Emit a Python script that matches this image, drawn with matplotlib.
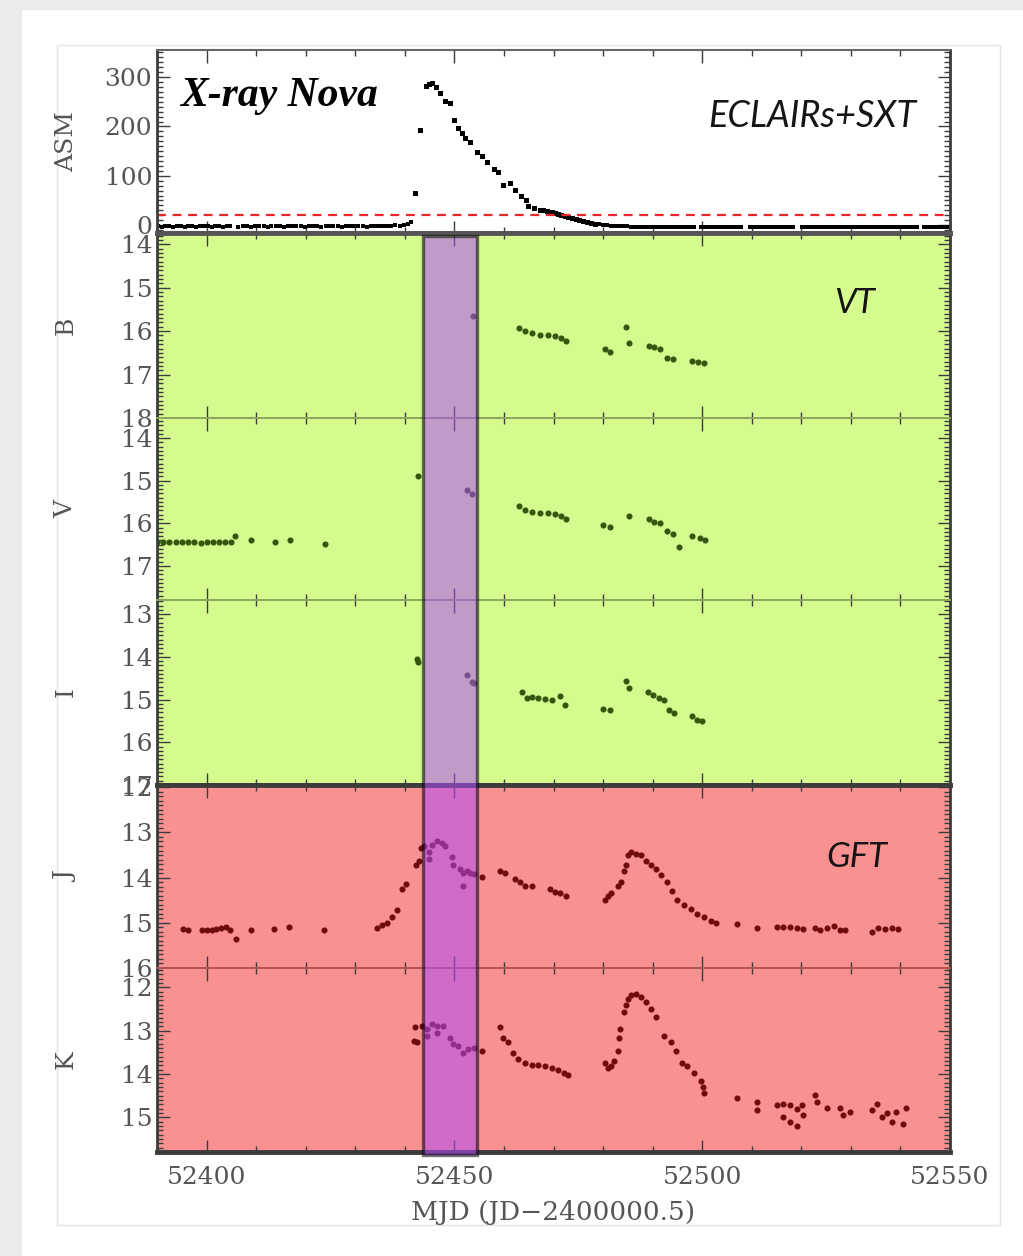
import matplotlib
matplotlib.use("Agg")
import matplotlib.pyplot as plt
import matplotlib.transforms as mtransforms
from matplotlib.patches import Rectangle
from matplotlib.ticker import MultipleLocator

# ---- data ----
asm_pre_mjd = [52390.2, 52391.0, 52391.7, 52392.4, 52393.2, 52394.0, 52394.8, 52395.6, 52396.3, 52397.1,
               52397.9, 52398.6, 52399.4, 52400.2, 52401.0, 52401.8, 52402.5, 52403.3, 52404.1, 52404.8,
               52406.4, 52407.3, 52408.1, 52409.0, 52409.8, 52410.6, 52411.5, 52412.3, 52413.1, 52414.0,
               52414.8, 52415.6, 52416.5, 52417.3, 52418.1, 52419.0, 52419.8, 52420.6, 52421.5, 52422.3,
               52423.1, 52424.0, 52424.8, 52425.6, 52426.5, 52427.3, 52428.1, 52429.0, 52429.8, 52430.6,
               52431.5, 52432.3, 52433.1, 52434.0, 52434.8, 52435.6, 52436.5, 52437.3, 52438.1, 52439.0,
               52439.8, 52440.6, 52441.2]
asm_pre_cts = [-2, -3, -2, -2, -3, -1, -2, -3, -2, -2,
               -3, -2, -1, -2, -3, -2, -2, -3, -2, -1,
               -3, -2, -2, -3, -1, -2, -2, -3, -2, -1,
               -2, -3, -2, -1, -2, -2, -3, -1, -2, -2,
               -3, -2, -1, -2, -2, -3, -1, -2, -2, -1,
               -2, -3, -1, -2, -1, -2, -1, -1, 0, -1,
               0, 2, 6]

asm_mjd = [52442.0, 52443.0, 52444.2, 52444.8, 52445.5, 52446.2, 52447.2, 52448.2, 52449.2, 52450.0,
           52450.8, 52451.5, 52452.2, 52453.2, 52454.5, 52455.5, 52456.5, 52457.9, 52458.9, 52459.9,
           52461.2, 52462.2, 52463.5, 52464.5, 52464.9, 52466.0, 52467.2, 52467.9, 52468.7, 52469.6,
           52470.3, 52470.9, 52471.6, 52472.3, 52473.0, 52473.7, 52474.5, 52475.2, 52476.0, 52476.8,
           52477.6, 52478.4]
asm_cts = [65, 193, 282, 286, 289, 279, 267, 251, 247, 213,
           197, 186, 176, 169, 149, 140, 128, 113, 108, 82,
           86, 71, 58, 51, 38, 34, 31, 30, 28, 26,
           24, 22, 20, 18, 16, 14, 12, 10, 8, 6,
           4, 3]

asm_tail_mjd = [52479.2, 52480.0, 52480.8, 52481.6, 52482.4, 52483.2, 52484.0, 52484.8, 52485.6, 52486.4,
                52487.2, 52488.0, 52488.8, 52489.6, 52490.4, 52491.2, 52492.0, 52492.8, 52493.6, 52494.4,
                52495.2, 52496.0, 52496.8, 52497.6, 52498.4, 52499.8, 52500.6, 52501.4, 52502.2, 52503.0,
                52503.8, 52504.6, 52505.4, 52506.2, 52507.0, 52507.8, 52509.6, 52510.4, 52511.2, 52512.0,
                52512.8, 52513.6, 52514.4, 52515.2, 52516.0, 52516.8, 52517.6, 52518.4, 52520.2, 52521.0,
                52521.8, 52522.6, 52523.4, 52524.2, 52525.0, 52525.8, 52526.6, 52527.4, 52528.2, 52529.0,
                52529.8, 52530.6, 52531.4, 52532.2, 52533.0, 52533.8, 52534.6, 52535.4, 52536.2, 52537.0,
                52537.8, 52538.6, 52539.4, 52540.2, 52541.0, 52541.8, 52542.6, 52543.4, 52544.8, 52545.6,
                52546.4, 52547.2, 52548.0, 52548.8, 52549.6]
asm_tail_cts = [2, 1, 0, -1, -1, -2, -2, -2, -3, -3,
                -3, -3, -3, -3, -3, -3, -3, -3, -3, -3,
                -3, -3, -3, -3, -3, -3, -3, -3, -4, -3,
                -3, -3, -4, -3, -3, -3, -3, -4, -3, -3,
                -3, -4, -3, -3, -3, -4, -3, -3, -3, -3,
                -4, -3, -3, -3, -4, -3, -3, -3, -3, -4,
                -3, -3, -3, -4, -3, -3, -3, -3, -4, -3,
                -3, -3, -4, -3, -3, -3, -3, -4, -3, -3,
                -3, -4, -3, -3, -3]

b_mjd = [52453.7, 52463.1, 52464.2, 52465.7, 52467.3, 52468.8, 52470.3, 52471.5, 52472.5, 52480.3,
         52481.5, 52484.6, 52485.3, 52489.2, 52490.3, 52491.5, 52493.0, 52494.2, 52498.0, 52499.2,
         52500.3]
b_mag = [15.65, 15.93, 16.00, 16.05, 16.08, 16.10, 16.12, 16.16, 16.22, 16.41,
         16.48, 15.90, 16.27, 16.35, 16.37, 16.41, 16.61, 16.65, 16.69, 16.72,
         16.74]

v_mjd = [52390.0, 52391.2, 52392.5, 52393.8, 52395.0, 52396.3, 52397.5, 52398.8, 52400.0, 52401.3,
         52402.5, 52403.8, 52405.0, 52405.8, 52408.9, 52413.9, 52416.9, 52423.8, 52442.7, 52452.6,
         52453.6, 52463.1, 52464.2, 52465.7, 52467.3, 52468.8, 52470.3, 52471.5, 52472.5, 52480.0,
         52481.5, 52485.3, 52489.2, 52490.3, 52491.5, 52493.0, 52494.2, 52495.3, 52498.0, 52499.5,
         52500.6]
v_mag = [16.45, 16.44, 16.45, 16.43, 16.44, 16.45, 16.44, 16.46, 16.45, 16.44,
         16.45, 16.44, 16.43, 16.31, 16.40, 16.44, 16.40, 16.48, 14.90, 15.22,
         15.32, 15.59, 15.69, 15.73, 15.75, 15.76, 15.78, 15.84, 15.90, 16.04,
         16.09, 15.83, 15.90, 15.96, 16.00, 16.19, 16.25, 16.55, 16.30, 16.35,
         16.39]

i_mjd = [52442.5, 52442.6, 52452.5, 52453.5, 52453.9, 52463.6, 52464.6, 52465.6, 52466.9, 52468.2,
         52469.6, 52471.3, 52472.3, 52480.0, 52481.3, 52484.6, 52485.3, 52489.0, 52490.0, 52491.3,
         52492.3, 52493.4, 52494.4, 52498.0, 52499.0, 52500.0]
i_mag = [14.04, 14.12, 14.43, 14.59, 14.62, 14.82, 14.97, 14.94, 14.97, 14.99,
         15.00, 14.92, 15.13, 15.22, 15.25, 14.56, 14.74, 14.82, 14.90, 14.97,
         15.01, 15.25, 15.31, 15.39, 15.47, 15.50]

j_mjd = [52395.3, 52396.3, 52399.0, 52400.0, 52401.0, 52402.0, 52403.0, 52404.0, 52404.7, 52405.9,
         52409.0, 52413.7, 52416.7, 52423.7,
         52434.4, 52435.4, 52436.5, 52437.5, 52438.5, 52439.5, 52440.2, 52442.2, 52442.8, 52443.2,
         52443.8, 52444.8, 52444.8, 52445.5, 52446.5, 52447.5, 52448.2, 52449.5, 52449.8, 52451.2,
         52451.8, 52451.8, 52452.5, 52453.2, 52453.9, 52455.5,
         52459.2, 52460.2, 52462.2, 52463.2, 52464.2, 52465.6, 52469.3, 52470.3, 52471.3, 52472.6,
         52480.3, 52481.0, 52481.6, 52483.0, 52483.6, 52484.3, 52484.6, 52485.0,
         52485.6, 52486.6, 52487.7, 52488.7, 52489.7, 52490.7, 52491.7, 52493.0, 52494.0, 52495.0,
         52496.4, 52497.7, 52499.0, 52500.4, 52501.7, 52502.7,
         52507.1, 52511.1, 52515.1, 52516.4, 52517.7, 52519.1, 52520.4, 52522.8, 52523.8, 52525.1,
         52526.5, 52527.8, 52528.8, 52534.2, 52535.5, 52536.8, 52538.2, 52539.5]
j_mag = [15.14, 15.16, 15.17, 15.16, 15.15, 15.14, 15.12, 15.10, 15.15, 15.35,
         15.16, 15.14, 15.10, 15.16,
         15.12, 15.04, 15.00, 14.88, 14.71, 14.25, 14.14, 13.71, 13.64, 13.35,
         13.30, 13.43, 13.58, 13.27, 13.20, 13.24, 13.31, 13.55, 13.71, 13.82,
         13.90, 14.18, 13.86, 13.90, 13.92, 13.98,
         13.86, 13.90, 14.02, 14.10, 14.18, 14.18, 14.25, 14.32, 14.35, 14.40,
         14.49, 14.41, 14.33, 14.18, 14.10, 13.86, 13.71, 13.51,
         13.43, 13.47, 13.51, 13.63, 13.71, 13.82, 13.94, 14.10, 14.29, 14.49,
         14.61, 14.69, 14.80, 14.88, 14.96, 15.00,
         15.02, 15.12, 15.10, 15.09, 15.10, 15.12, 15.13, 15.12, 15.16, 15.12,
         15.08, 15.16, 15.16, 15.20, 15.12, 15.14, 15.12, 15.14]

k_mjd = [52441.8, 52442.1, 52442.5, 52443.5, 52444.5, 52444.5, 52445.5, 52446.5, 52446.5, 52447.8,
         52449.2, 52449.8, 52450.8, 52451.8, 52452.8, 52453.9, 52455.5,
         52459.2, 52459.9, 52460.9, 52461.9, 52462.9, 52464.2, 52465.6, 52466.9, 52468.2, 52469.6,
         52470.9, 52472.2, 52472.9,
         52480.3, 52481.0, 52481.6, 52482.3, 52483.0, 52483.3, 52483.5, 52484.3, 52484.6,
         52485.0, 52485.6, 52486.6, 52487.7, 52488.7, 52489.7, 52490.7,
         52492.3, 52493.7, 52494.7, 52496.0, 52497.0, 52498.4, 52499.7, 52500.1, 52500.4,
         52507.1, 52511.1, 52511.1,
         52515.1, 52516.4, 52517.7, 52519.1, 52520.1, 52516.4, 52517.7, 52519.1, 52520.4,
         52522.8, 52523.1, 52525.1, 52527.8, 52528.5, 52529.8,
         52534.2, 52535.2, 52536.2, 52537.2, 52538.2, 52539.2, 52540.5, 52541.2]
k_mag = [13.23, 12.92, 13.27, 12.88, 12.96, 13.12, 12.84, 12.88, 13.04, 12.88,
         13.16, 13.31, 13.35, 13.51, 13.43, 13.39, 13.47,
         12.92, 13.16, 13.27, 13.51, 13.66, 13.74, 13.78, 13.80, 13.82, 13.86,
         13.91, 13.97, 14.01,
         13.74, 13.86, 13.82, 13.70, 13.47, 13.16, 12.96, 12.57, 12.41,
         12.26, 12.18, 12.16, 12.22, 12.34, 12.49, 12.69,
         13.12, 13.27, 13.47, 13.74, 13.82, 13.97, 14.17, 14.30, 14.44,
         14.56, 14.64, 14.83,
         14.72, 14.68, 14.72, 14.80, 14.72, 15.00, 15.10, 15.19, 14.95,
         14.48, 14.64, 14.79, 14.79, 14.95, 14.87,
         14.83, 14.68, 14.99, 14.91, 15.11, 14.87, 15.15, 14.79]

asm_threshold = 20
band_start, band_end = 52443.6, 52454.5
xlim = (52390, 52550)

panel_labels = ['ASM', 'B', 'V', 'I', 'J', 'K']
panel_ylims = [(-16, 355), (18.0, 13.74), (17.8, 13.53), (17.0, 12.67), (16.0, 11.95), (15.8, 11.55)]

# ---- figure ----
W, H = 1023, 1256
fig = plt.figure(figsize=(W / 100, H / 100), dpi=100)
fig.patch.set_facecolor('#ebebeb')
fig.add_artist(Rectangle((22 / W, 0), 1 - 22 / W, 1 - 10 / H, transform=fig.transFigure,
                         facecolor='white', edgecolor='none', zorder=-10))
fig.add_artist(Rectangle((57 / W, 1 - 1225 / H), (1000 - 57) / W, (1225 - 45) / H,
                         transform=fig.transFigure, fill=False, edgecolor='#e4e4e4',
                         lw=1, zorder=-9))

green = '#d5fb8f'
red = '#f99191'
dark = '#3c3c3c'
tickcol = '#555555'

left, right = 157, 950
edges = [50, 233, 418, 600, 785, 968, 1152]
axes = []
for i in range(6):
    top, bot = edges[i], edges[i + 1]
    ax = fig.add_axes([left / W, 1 - bot / H, (right - left) / W, (bot - top) / H])
    axes.append(ax)

ax_asm, ax_b, ax_v, ax_i, ax_j, ax_k = axes

ax_asm.set_facecolor('white')
for ax in (ax_b, ax_v, ax_i):
    ax.set_facecolor(green)
for ax in (ax_j, ax_k):
    ax.set_facecolor(red)

# ASM panel
ax_asm.plot(asm_pre_mjd, asm_pre_cts, 's', color='black', ms=2.8, mew=0)
ax_asm.plot(asm_mjd, asm_cts, 's', color='black', ms=3.6, mew=0)
ax_asm.plot(asm_tail_mjd, asm_tail_cts, 's', color='black', ms=2.8, mew=0)
ax_asm.axhline(asm_threshold, color='#e8262b', ls=(0, (4, 3)), lw=1.6)

# optical / NIR panels
for ax, x, y, c in [(ax_b, b_mjd, b_mag, '#34560f'), (ax_v, v_mjd, v_mag, '#34560f'),
                    (ax_i, i_mjd, i_mag, '#34560f'), (ax_j, j_mjd, j_mag, '#6e0c0c'),
                    (ax_k, k_mjd, k_mag, '#6e0c0c')]:
    ax.plot(x, y, 'o', color=c, ms=4.4, mew=0)

for ax, lab, yl in zip(axes, panel_labels, panel_ylims):
    ax.set_xlim(*xlim)
    ax.set_ylim(*yl)
    ax.xaxis.set_major_locator(MultipleLocator(50))
    ax.xaxis.set_minor_locator(MultipleLocator(10))
    if lab == 'ASM':
        ax.yaxis.set_major_locator(MultipleLocator(100))
        ax.yaxis.set_minor_locator(MultipleLocator(10))
    else:
        ax.yaxis.set_major_locator(MultipleLocator(1))
        ax.yaxis.set_minor_locator(MultipleLocator(0.1))
    ax.tick_params(which='both', direction='in', top=True, right=True, color=dark,
                   labelcolor=tickcol, labelsize=18, width=1)
    ax.tick_params(which='major', length=9)
    ax.tick_params(which='minor', length=4.5)
    for t in ax.get_yticklabels():
        t.set_fontfamily('DejaVu Serif')
    ax.set_ylabel(lab, family='DejaVu Serif', fontsize=18, color=tickcol)
    ax.yaxis.set_label_coords(-0.10, 0.5)
    if ax is not ax_k:
        ax.tick_params(labelbottom=False)
    for s in ('left', 'right'):
        ax.spines[s].set_color(dark)
        ax.spines[s].set_linewidth(2)

ax_k.set_xlabel('MJD (JD\u22122400000.5)', family='DejaVu Serif', fontsize=19, color=tickcol,
                labelpad=8)
for t in ax_k.get_xticklabels():
    t.set_fontfamily('DejaVu Serif')
ax_k.tick_params(axis='x', pad=10)

# frames: thick around the two groups, thin dividers inside
ax_asm.spines['top'].set_color('#666666')
ax_asm.spines['top'].set_linewidth(1.5)
ax_asm.spines['bottom'].set_color('#555555')
ax_asm.spines['bottom'].set_linewidth(3.5)
ax_b.spines['top'].set_color('#555555')
ax_b.spines['top'].set_linewidth(3.5)
for ax, side in [(ax_b, 'bottom'), (ax_v, 'top'), (ax_v, 'bottom'), (ax_i, 'top')]:
    ax.spines[side].set_color('#8ca65e')
    ax.spines[side].set_linewidth(1.4)
for ax, side in [(ax_j, 'bottom'), (ax_k, 'top')]:
    ax.spines[side].set_color('#b25454')
    ax.spines[side].set_linewidth(1.4)
for ax, side in [(ax_i, 'bottom'), (ax_j, 'top'), (ax_k, 'bottom')]:
    ax.spines[side].set_color(dark)
    ax.spines[side].set_linewidth(3.5)

# highlighted interval spanning the VT and GFT panels
trans = mtransforms.blended_transform_factory(ax_k.transData, fig.transFigure)
fig.add_artist(Rectangle((band_start, 1 - 1155 / H), band_end - band_start, (1155 - 236) / H,
                         transform=trans, facecolor=(175 / 255, 76 / 255, 246 / 255, 0.55),
                         edgecolor=(0, 0, 0, 0.55), lw=2.4, zorder=5))

# annotations
ax_asm.text(0.029, 0.694, 'X-ray Nova', transform=ax_asm.transAxes, family='Liberation Serif',
            style='italic', weight='bold', fontsize=30, color='black', va='baseline')
ax_asm.text(0.957, 0.579, 'ECLAIRs+SXT', transform=ax_asm.transAxes, family='Lato',
            style='italic', fontsize=26, color='#151515', ha='right', va='baseline')
ax_b.text(0.906, 0.568, 'VT', transform=ax_b.transAxes, family='Lato', style='italic',
          fontsize=25, color='#151515', ha='right', va='baseline')
ax_j.text(0.921, 0.552, 'GFT', transform=ax_j.transAxes, family='Lato', style='italic',
          fontsize=25, color='#151515', ha='right', va='baseline')

fig.savefig('out.png', dpi=100, facecolor=fig.get_facecolor())
